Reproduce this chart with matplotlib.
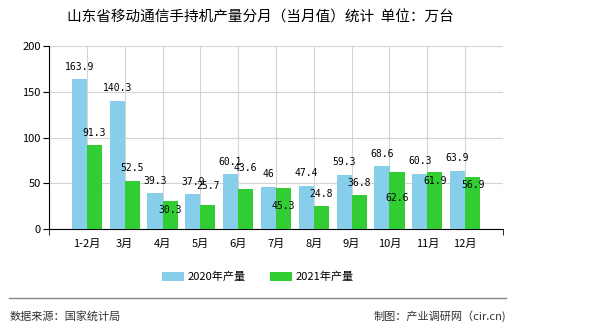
import matplotlib.pyplot as plt
import numpy as np

plt.rcParams['font.family'] = ['Noto Sans CJK SC', 'DejaVu Sans']

# data
months = ["1-2月", "3月", "4月", "5月", "6月", "7月", "8月", "9月", "10月", "11月", "12月"]
prod_2020 = [163.9, 140.3, 39.3, 37.9, 60.1, 46, 47.4, 59.3, 68.6, 60.3, 63.9]
prod_2021 = [91.3, 52.5, 30.3, 25.7, 43.6, 45.3, 24.8, 36.8, 62.6, 61.9, 56.9]
series_names = ["2020年产量", "2021年产量"]

# label nudges (points, + is downward) for the green labels, as placed in the original
green_nudge = [-9, -9, 6, -14, -15, 13, -9, -9, 19, 6, 6]

fig = plt.figure(figsize=(5.9, 3.3), dpi=100)
ax = fig.add_axes([49 / 590, 101 / 330, 454 / 590, 183 / 330])

x = np.arange(1, len(months) + 1)
w = 0.4
b1 = ax.bar(x - w / 2, prod_2020, w, color="#87CEEB", label=series_names[0], zorder=3)
b2 = ax.bar(x + w / 2, prod_2021, w, color="#32CD32", label=series_names[1], zorder=3)

lab_font = dict(family="DejaVu Sans Mono", size=7, color="black", zorder=5)
for xi, v in zip(x, prod_2020):
    ax.annotate("{:g}".format(v), (xi - w / 2, v), xytext=(0, 9),
                textcoords="offset points", ha="center", va="center", **lab_font)
for xi, v, dy in zip(x, prod_2021, green_nudge):
    ax.annotate("{:g}".format(v), (xi + w / 2, v), xytext=(0, -dy),
                textcoords="offset points", ha="center", va="center", **lab_font)

ax.set_xlim(0, 12)
ax.set_ylim(0, 200)
ax.set_yticks([0, 50, 100, 150, 200])
ax.set_xticks(x)
ax.set_xticklabels(months, fontsize=8)
ax.tick_params(axis="x", length=0, pad=7)
ax.tick_params(axis="y", length=4, labelsize=8, pad=2)
ax.set_xticks([0, 12], minor=True)
ax.tick_params(axis="x", which="minor", length=4)

# grid: horizontal lines plus vertical at every category and the edges
ax.grid(axis="y", color="#d4d4d4", lw=0.8, zorder=0)
for xv in range(0, 13):
    ax.axvline(xv, color="#d4d4d4", lw=0.8, zorder=0)
ax.spines["top"].set_visible(False)
ax.spines["right"].set_visible(False)
ax.spines["left"].set_color("black")
ax.spines["bottom"].set_color("black")

fig.text(260 / 590, 1 - 18 / 330, "山东省移动通信手持机产量分月（当月值）统计  单位：万台",
         ha="center", va="center", fontsize=10.5)

fig.legend(handles=[b1, b2], loc="center", bbox_to_anchor=(258 / 590, 1 - 277 / 330),
           ncol=2, frameon=False, fontsize=8, handlelength=2.0, handleheight=0.8,
           columnspacing=2.2, handletextpad=0.3)

fig.add_artist(plt.Line2D([9 / 590, 506 / 590], [1 - 298 / 330, 1 - 298 / 330],
                          color="#888888", lw=1))
fig.text(10 / 590, 1 - 316 / 330, "数据来源：国家统计局", ha="left", va="center",
         fontsize=8, color="#333333")
fig.text(506 / 590, 1 - 316 / 330, "制图：产业调研网（cir.cn)", ha="right", va="center",
         fontsize=8, color="#333333")

fig.savefig("out.png", dpi=100)
